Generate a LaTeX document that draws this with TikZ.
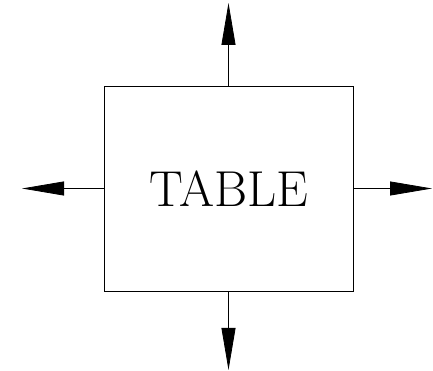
\documentclass[tikz,border=0pt]{standalone}
\usetikzlibrary{arrows.meta}

\begin{document}
\begin{tikzpicture}[x=1pt,y=1pt,line width=0.8pt,
    outarrow/.style={-{Triangle[length=42pt,width=14pt]}}]
          \useasboundingbox (0,0) rectangle (433,371);
          % Draw the table box
          \node[draw,minimum width=249pt,minimum height=205pt,inner sep=0pt,
                font=\fontsize{50.5}{50.5}\selectfont] (table) at (228.5,182.5) {TABLE};
          % Free ends of the arrows
          \coordinate (up) at (228.5,368);
          \coordinate (down) at (228.5,1);
          \coordinate (left) at (22,182.5);
          \coordinate (right) at (432,182.5);
          % Draw the arrows
          \draw[outarrow] (table.north) -- (up);
          \draw[outarrow] (table.south) -- (down);
          \draw[outarrow] (table.west) -- (left);
          \draw[outarrow] (table.east) -- (right);
        \end{tikzpicture}
\end{document}
